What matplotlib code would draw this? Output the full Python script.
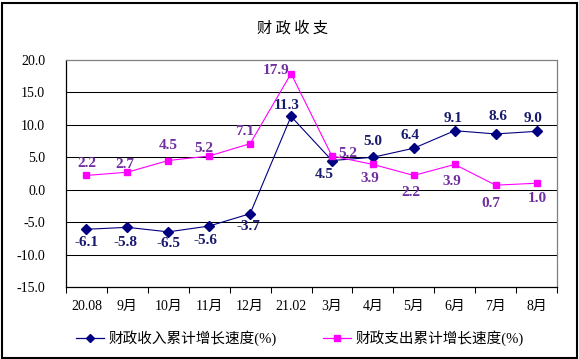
import matplotlib
matplotlib.use("Agg")
import matplotlib.pyplot as plt
from matplotlib.patches import Rectangle
from matplotlib.lines import Line2D
import numpy as np

categories = ["20.08", "9月", "10月", "11月", "12月", "21.02", "3月", "4月", "5月", "6月", "7月", "8月"]
income = [-6.1, -5.8, -6.5, -5.6, -3.7, 11.3, 4.5, 5.0, 6.4, 9.1, 8.6, 9.0]
expend = [2.2, 2.7, 4.5, 5.2, 7.1, 17.9, 5.2, 3.9, 2.2, 3.9, 0.7, 1.0]
yticks = [20.0, 15.0, 10.0, 5.0, 0.0, -5.0, -10.0, -15.0]
title = "财 政 收 支"
name_income = "财政收入累计增长速度(%)"
name_expend = "财政支出累计增长速度(%)"

# label offsets in pixels (style)
off_income = [(0, -13), (-2, -15), (0, -12), (-4, -14), (-2, -13), (-4, 11),
              (-8, -14), (0, 16), (-4, 13), (-2, 12), (2, 17), (-3, 13)]
off_expend = [(0, 12), (-3, 8), (0, 15), (-5, 7), (-5, 12), (-15, 3),
              (16, 2), (-3, -14), (-3, -17), (-3, -17), (-5, -18), (1, -15)]

C_INC = "#000080"
C_EXP = "#FF00FF"
C_INC_LBL = "#1a1a6e"
C_EXP_LBL = "#7030A0"
SERIF = ["Liberation Serif", "Noto Sans CJK SC"]
CJK = ["Noto Sans CJK SC", "DejaVu Sans"]

W, H = 579, 359
fig = plt.figure(figsize=(W / 100, H / 100), dpi=100)
ax = fig.add_axes([66 / W, 1 - 287 / H, (557 - 66) / W, (287 - 60) / H])

x = np.arange(len(categories))
ax.plot(x, income, color=C_INC, lw=0.8, marker="D", markersize=5.5,
        markerfacecolor=C_INC, markeredgecolor=C_INC, zorder=4)
ax.plot(x, expend, color=C_EXP, lw=0.8, marker="s", markersize=5,
        markerfacecolor=C_EXP, markeredgecolor=C_EXP, zorder=4)

for xi, v, o in zip(x, income, off_income):
    ax.annotate(f"{v:.1f}", (xi, v), xytext=o, textcoords="offset pixels",
                ha="center", va="center", fontsize=11, fontweight="bold",
                family=SERIF, color=C_INC_LBL, zorder=5)
for xi, v, o in zip(x, expend, off_expend):
    ax.annotate(f"{v:.1f}", (xi, v), xytext=o, textcoords="offset pixels",
                ha="center", va="center", fontsize=11, fontweight="bold",
                family=SERIF, color=C_EXP_LBL, zorder=5)

ax.set_xlim(-0.5, len(categories) - 0.5)
ax.set_ylim(-15, 20)
ax.set_yticks(yticks)
ax.set_yticklabels([f"{t:.1f}" for t in yticks], family=SERIF, fontsize=10)
ax.tick_params(axis="y", length=0, pad=15)

ax.set_xticks(np.arange(len(categories) + 1) - 0.5)
ax.set_xticklabels([])
ax.tick_params(axis="x", which="major", length=4, width=0.75, color="black", direction="out")
ax.set_xticks(x, minor=True)
ax.set_xticklabels(categories, minor=True, family=SERIF, fontsize=10)
ax.tick_params(axis="x", which="minor", length=0, pad=9)

for t in yticks[1:-1]:
    ax.axhline(t, color="black", lw=0.75, zorder=1)

ax.spines["top"].set_color("#808080")
ax.spines["right"].set_color("#808080")
ax.spines["left"].set_color("black")
ax.spines["bottom"].set_color("black")
for s in ax.spines.values():
    s.set_linewidth(0.9)

fig.text(293 / W, 1 - 28 / H, title, ha="center", va="center", fontsize=11, family=CJK)

handles = [Line2D([], [], color=C_INC, lw=0.9, marker="D", markersize=4.5),
           Line2D([], [], color=C_EXP, lw=0.9, marker="s", markersize=4.5)]
leg = fig.legend(handles, [name_income, name_expend], ncol=2, frameon=False,
                 loc="center", bbox_to_anchor=(300 / W, 1 - 338 / H),
                 prop={"family": SERIF, "size": 10.5}, handlelength=1.9,
                 handletextpad=0.3, columnspacing=3.2)

fig.patches.append(Rectangle((1.5 / W, 1.5 / H), (W - 4) / W, (H - 4) / H,
                             transform=fig.transFigure, fill=False,
                             edgecolor="black", lw=1.5))

fig.savefig("out.png", dpi=100)
